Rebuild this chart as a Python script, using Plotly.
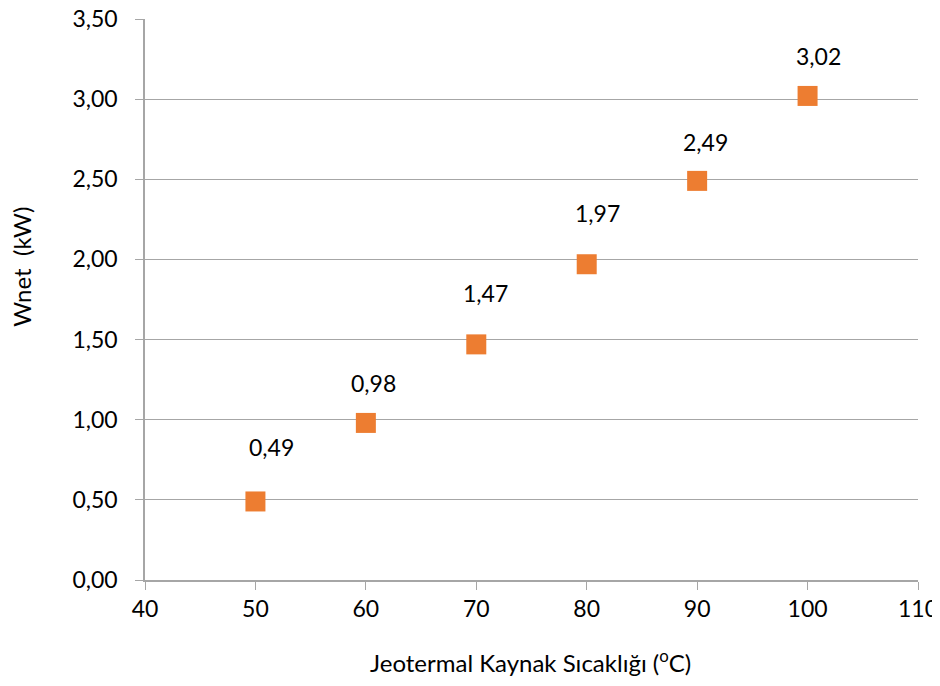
import plotly.graph_objects as go

temps = [50, 60, 70, 80, 90, 100]
wnet = [0.49, 0.98, 1.47, 1.97, 2.49, 3.02]
labels = ["0,49", "0,98", "1,47", "1,97", "2,49", "3,02"]

# label placement offsets (pixels), as positioned in the original chart
label_dx = [16, 8, 9, 11, 8, 11]
label_dy = [54, 40, 51, 51, 39, 40]

FONT = "Lato, Open Sans, sans-serif"
fig = go.Figure()
fig.add_trace(go.Scatter(
    x=temps, y=wnet, mode="markers",
    marker=dict(symbol="square", size=20, color="#ED7D31"),
    showlegend=False,
))
for xv, yv, t, dx, dy in zip(temps, wnet, labels, label_dx, label_dy):
    fig.add_annotation(x=xv, y=yv, text=t, showarrow=False, xshift=dx, yshift=dy,
                       font=dict(family=FONT, size=23, color="#000000"))

fig.add_annotation(xref="paper", yref="paper", x=0.4987, y=-0.145,
                   xanchor="center", yanchor="middle",
                   text="Jeotermal Kaynak Sıcaklığı (<sup>o</sup>C)", showarrow=False,
                   font=dict(family=FONT, size=24, color="#000000"))
fig.add_annotation(xref="paper", yref="paper", x=-0.160, y=0.559,
                   xanchor="center", yanchor="middle",
                   text="Wnet  (kW)", showarrow=False, textangle=-90,
                   font=dict(family=FONT, size=24, color="#000000"))

# page body has an 8px margin, so sizes/offsets compensate for it
fig.update_layout(
    width=932, height=670,
    margin=dict(l=137, r=22, t=11, b=98, autoexpand=False),
    paper_bgcolor="white", plot_bgcolor="white",
    separators=",.",
    font=dict(family=FONT, size=23, color="#000000"),
)
fig.update_xaxes(
    range=[40, 110], tickvals=[40, 50, 60, 70, 80, 90, 100, 110],
    showgrid=False, zeroline=False, automargin=False, ticklabeloverflow="allow",
    showline=True, linecolor="#A6A6A6", linewidth=1.5,
    ticks="outside", ticklen=8, tickcolor="#A6A6A6",
    tickfont=dict(family=FONT, size=23),
)
fig.update_yaxes(
    range=[0, 3.5], tickvals=[0, 0.5, 1, 1.5, 2, 2.5, 3, 3.5], tickformat=".2f",
    showgrid=True, gridcolor="#A6A6A6", gridwidth=1.2, zeroline=False, automargin=False,
    ticklabeloverflow="allow", ticklabelstandoff=13,
    showline=True, linecolor="#A6A6A6", linewidth=1.5,
    ticks="outside", ticklen=8, tickcolor="#A6A6A6",
    tickfont=dict(family=FONT, size=23),
)
fig.write_html("out.html")
